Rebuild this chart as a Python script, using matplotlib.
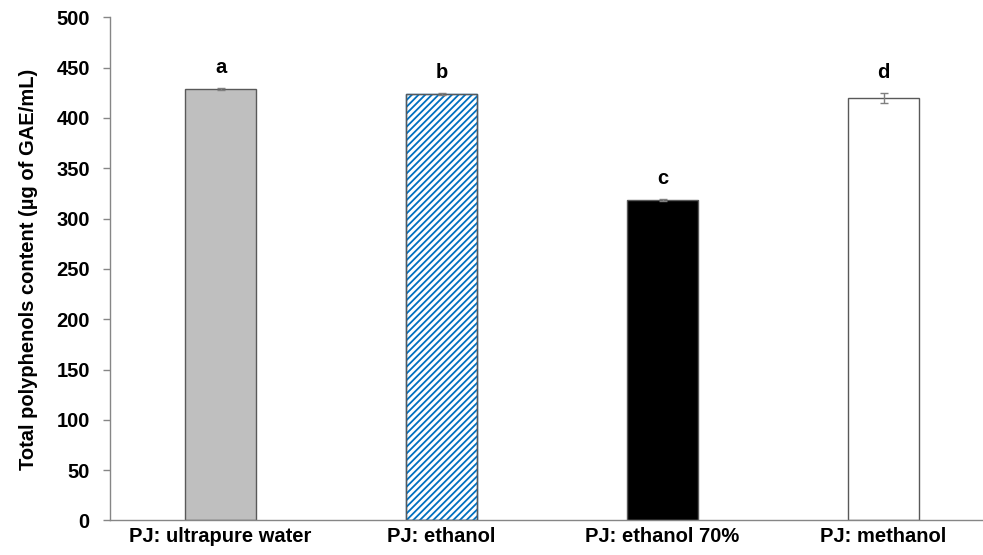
import matplotlib.pyplot as plt
import numpy as np

plt.rcParams['font.family'] = ['Liberation Sans', 'DejaVu Sans']
plt.rcParams['hatch.linewidth'] = 1.3

categories = ['PJ: ultrapure water', 'PJ: ethanol', 'PJ: ethanol 70%', 'PJ: methanol']
values = [428.5, 423.5, 318.5, 420.0]
errors = [1.0, 1.0, 0.6, 4.7]
letters = ['a', 'b', 'c', 'd']
yticks = [0, 50, 100, 150, 200, 250, 300, 350, 400, 450, 500]

fills = ['#BFBFBF', 'white', 'black', 'white']
hatches = [None, '/////', None, None]

fig = plt.figure(figsize=(9.83, 5.55), dpi=100)
ax = fig.add_axes([0.1119, 0.0622, 0.8881, 0.9066])

x = np.arange(len(categories))
bars = ax.bar(x, values, width=0.32, color=fills, edgecolor='#595959', linewidth=1.0, zorder=2)
for b, h in zip(bars, hatches):
    if h:
        b.set_hatch(h)
        b.set_edgecolor('#0070C0')
        # outline drawn separately so hatch stays blue
        ax.bar(b.get_x() + b.get_width() / 2, b.get_height(), width=b.get_width(),
               fill=False, edgecolor='#595959', linewidth=1.0, zorder=3)

ax.errorbar(x, values, yerr=errors, fmt='none', ecolor='#7F7F7F', elinewidth=1.0,
            capsize=3, capthick=1.0, zorder=4)

for xi, v, e, lt in zip(x, values, errors, letters):
    ax.text(xi, v + e + 15, lt, ha='center', va='baseline', fontsize=14.5, fontweight='bold')

ax.set_xlim(-0.5, 3.45)
ax.set_ylim(0, 500)
ax.set_yticks(yticks)
ax.set_xticks(x)
ax.set_xticklabels(categories, fontsize=14.5, fontweight='bold')
for lbl in ax.get_yticklabels():
    lbl.set_fontsize(14.5)
    lbl.set_fontweight('bold')

ax.tick_params(axis='x', length=0, pad=5)
ax.tick_params(axis='y', length=5, width=1, color='#868686', pad=9.5, direction='out')

for s in ['top', 'right']:
    ax.spines[s].set_visible(False)
for s in ['left', 'bottom']:
    ax.spines[s].set_color('#868686')
    ax.spines[s].set_linewidth(1.0)

ax.set_ylabel('Total polyphenols content (µg of GAE/mL)', fontsize=14.5, fontweight='bold')
ax.yaxis.set_label_coords(-0.083, 0.5)

fig.savefig('out.png', dpi=100)
